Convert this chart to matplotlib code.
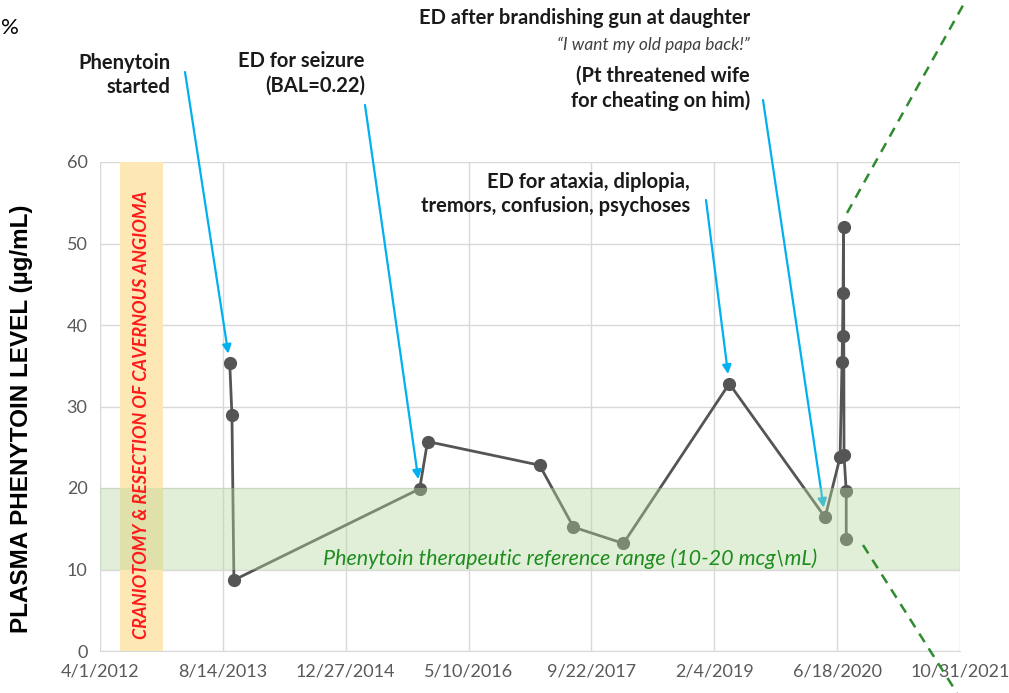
import matplotlib
matplotlib.use("Agg")
from matplotlib import pyplot as plt
from matplotlib.lines import Line2D
import matplotlib.dates as mdates
from datetime import datetime

# data
dates = ["2013-09-11", "2013-09-20", "2013-09-28", "2015-10-24", "2015-11-25",
         "2017-02-23", "2017-07-11", "2018-01-30", "2019-04-06", "2020-04-30",
         "2020-06-30", "2020-07-08", "2020-07-10", "2020-07-12", "2020-07-14",
         "2020-07-16", "2020-07-25", "2020-07-25"]
levels = [35.3, 28.9, 8.7, 19.9, 25.7,
          22.8, 15.2, 13.2, 32.8, 16.4,
          23.8, 35.5, 38.7, 43.9, 52.0,
          24.0, 19.6, 13.8]

tick_labels = ["4/1/2012", "8/14/2013", "12/27/2014", "5/10/2016",
               "9/22/2017", "2/4/2019", "6/18/2020", "10/31/2021"]
surgery = ["2012-06-21", "2012-12-13"]
ref_range = [10, 20]

events = [
    ("Phenytoin\nstarted", 0),
    ("ED for seizure\n(BAL=0.22)", 3),
    ("ED for ataxia, diplopia,\ntremors, confusion, psychoses", 8),
    ("", 9),
]

x = [datetime.strptime(d, "%Y-%m-%d") for d in dates]
ticks = [datetime.strptime(t, "%m/%d/%Y") for t in tick_labels]

W, H = 1009, 693
fig = plt.figure(figsize=(W / 100, H / 100), dpi=100)
ax = fig.add_axes([100 / W, 1 - 651 / H, 860 / W, 489 / H])

def fx(px):
    return px / W

def fy(py):
    return 1 - py / H

ax.plot(x, levels, color="#555555", lw=2, marker="o", ms=8.5, zorder=3)

ax.axhspan(ref_range[0], ref_range[1], color="#b5d79f", alpha=0.4, lw=0, zorder=4)
s0, s1 = [datetime.strptime(d, "%Y-%m-%d") for d in surgery]
ax.axvspan(s0, s1, color="#fde7b4", lw=0, zorder=1)
ax.text(s0 + (s1 - s0) / 2, 29, "CRANIOTOMY & RESECTION OF CAVERNOUS ANGIOMA",
        rotation=90, ha="center", va="center", color="#ff1a1a",
        fontsize=13, fontweight="bold", style="italic", family="Lato", zorder=5)

ax.text(datetime(2017, 6, 29), 11.3,
        "Phenytoin therapeutic reference range (10-20 mcg\\mL)",
        ha="center", va="center", color="#1f8c1f", fontsize=15.5,
        style="italic", family="Lato", zorder=5)

ax.set_xlim(ticks[0], ticks[-1])
ax.set_ylim(0, 60)
ax.set_xticks(ticks)
ax.set_xticklabels(tick_labels)
ax.set_yticks(range(0, 61, 10))
ax.grid(True, color="#d9d9d9", lw=1)
ax.set_axisbelow(True)
for s in ["top", "right", "left"]:
    ax.spines[s].set_visible(False)
ax.spines["bottom"].set_color("#d9d9d9")
ax.tick_params(length=0, labelsize=13, labelcolor="#595959", pad=9)
for lab in ax.get_xticklabels() + ax.get_yticklabels():
    lab.set_family("Lato")
ax.set_ylabel("PLASMA PHENYTOIN LEVEL (µg/mL)", fontsize=17.5, fontweight="bold",
              family="Liberation Sans")
ax.yaxis.set_label_coords(-0.078, 0.475)

# annotations
blue = "#00b0f0"
txt = dict(fontsize=14.5, fontweight="bold", family="Lato", color="#1a1a1a",
           ha="right", va="center", multialignment="right", linespacing=1.3)
fig.text(fx(170), fy(75), events[0][0], **txt)
fig.text(fx(365), fy(73), events[1][0], **txt)
fig.text(fx(690), fy(194), events[2][0], **txt)
fig.text(fx(750), fy(18), "ED after brandishing gun at daughter", **txt)
fig.text(fx(750), fy(45), "\u201cI want my old papa back!\u201d", fontsize=12.5,
         style="italic", family="Lato", color="#404040", ha="right", va="center")
fig.text(fx(750), fy(88), "(Pt threatened wife\nfor cheating on him)", **txt)

starts = [(185, 72), (365, 105), (706, 200), (763, 100)]
for (label, i), (sx, sy) in zip(events, starts):
    ax.annotate("", xy=(mdates.date2num(x[i]), levels[i]),
                xytext=(fx(sx), fy(sy)), textcoords="figure fraction",
                annotation_clip=False,
                arrowprops=dict(arrowstyle="-|>", color=blue, lw=1.6,
                                mutation_scale=13, shrinkA=0, shrinkB=7))

# dashed connectors to zoomed inset (outside picture)
fig.add_artist(Line2D([fx(847), fx(966)], [fy(213), fy(0)], transform=fig.transFigure,
                      color="#2e8b2e", lw=1.8, ls=(0, (4, 3))))
fig.add_artist(Line2D([fx(863), fx(957)], [fy(545), fy(693)], transform=fig.transFigure,
                      color="#2e8b2e", lw=1.8, ls=(0, (4, 3))))
fig.text(fx(1), fy(28), "%", fontsize=16, family="Lato", va="center")

fig.savefig("out.png", dpi=100)
